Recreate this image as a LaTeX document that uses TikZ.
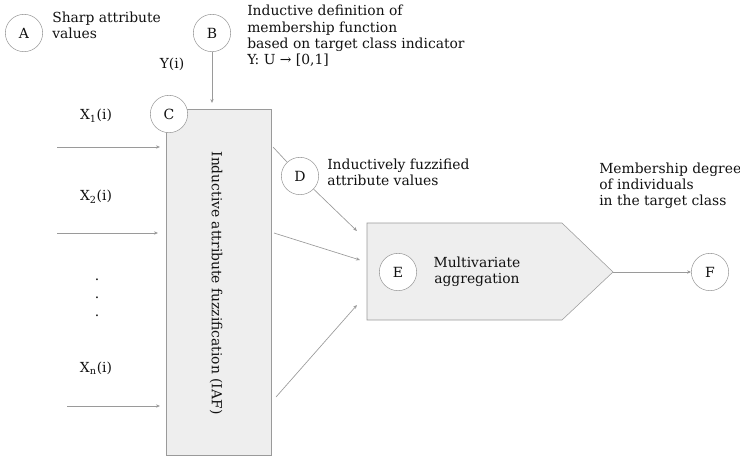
\documentclass[tikz,border=0pt]{standalone}
\usepackage{fontspec}
\setmainfont{DejaVu Serif}
\usetikzlibrary{arrows.meta,shapes.geometric}
\definecolor{linegray}{HTML}{9A9A9A}
\definecolor{boxfill}{HTML}{EEEEEE}
\definecolor{txt}{HTML}{111111}
\begin{document}
\begin{tikzpicture}[x=0.75pt,y=-0.75pt,
  every node/.style={text=txt},
  lab/.style={font=\fontsize{10.4}{12.2}\selectfont, align=left, inner sep=0pt},
  circ/.style={circle, draw=linegray, fill=white, minimum size=28pt, inner sep=0pt, font=\fontsize{10.5}{12}\selectfont},
  conn/.style={draw=linegray, line width=0.5pt, -{Stealth[length=3pt,width=2.5pt]}},
  plain/.style={draw=linegray, line width=0.5pt}]
\useasboundingbox (0,0) rectangle (740,458);
% main box
\node[draw=linegray, fill=boxfill, minimum width=105*0.75pt, minimum height=346*0.75pt, inner sep=0pt] (iaf) at (218.5,282) {};
\node[lab, rotate=-90, anchor=center] (iaftxt) at (216,283) {Inductive attribute fuzzification (IAF)};
% pentagon
\path[draw=linegray, fill=boxfill] (367,223) -- (562,223) -- (613,272) -- (562,320) -- (367,320) -- cycle;
\coordinate (tip) at (613,272);
% circles
\node[circ] (A) at (24,33) {A};
\node[circ] (B) at (212,33) {B};
\node[circ] (C) at (169,114) {C};
\node[circ] (D) at (300,176) {D};
\node[circ] (E) at (398,272) {E};
\node[circ] (F) at (710,272) {F};
% labels
\node[lab, anchor=west] (tA) at (52,25) {Sharp attribute\\values};
\node[lab, anchor=west] (tB) at (247,36) {Inductive definition of\\membership function\\based on target class indicator\\Y: U → [0,1]};
\node[lab, anchor=center] (tY) at (172,64) {Y(i)};
\node[lab, anchor=west] (tD) at (327,172) {Inductively fuzzified\\attribute values};
\node[lab, anchor=west] (tF) at (599,186) {Membership degree\\of individuals\\in the target class};
\node[lab, anchor=center, align=center] (tE) at (477,272) {Multivariate\\aggregation};
\node[lab, anchor=center] (x1) at (96,116) {X\textsubscript{1}(i)};
\node[lab, anchor=center] (x2) at (96,197) {X\textsubscript{2}(i)};
\node[lab, anchor=center] (xn) at (96,368) {X\textsubscript{n}(i)};
\node[lab, anchor=center] (d1) at (97,280) {.};
\node[lab, anchor=center] (d2) at (97,298) {.};
\node[lab, anchor=center] (d3) at (97,316) {.};
% input coordinates
\coordinate (i1) at (57,147);
\coordinate (i2) at (57,233);
\coordinate (in) at (67,406);
\coordinate (e1) at (160,147);
\coordinate (e2) at (158,233);
\coordinate (en) at (160,406);
\draw[conn] (i1) -- (e1);
\draw[conn] (i2) -- (e2);
\draw[conn] (in) -- (en);
% B to box
\coordinate (btop) at (212,103);
\draw[conn] (B) -- (btop);
% outputs
\coordinate (o1) at (273,147);
\coordinate (o2) at (274,233);
\coordinate (o3) at (276,397);
\coordinate (p1) at (357,231);
\coordinate (p2) at (360,260);
\coordinate (p3) at (357,305);
\draw[plain] (o1) -- (D);
\draw[conn] (D) -- (p1);
\draw[conn] (o2) -- (p2);
\draw[conn] (o3) -- (p3);
\draw[conn] (tip) -- (F);
\end{tikzpicture}
\end{document}
